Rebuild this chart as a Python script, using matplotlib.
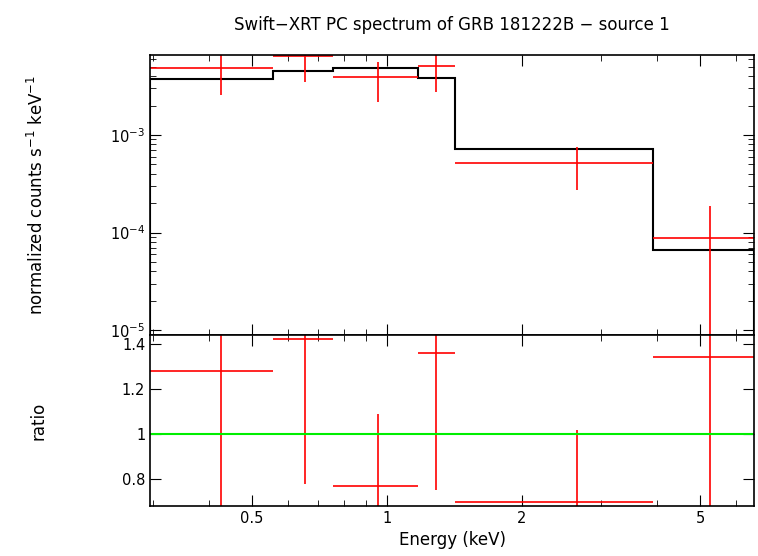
import matplotlib
matplotlib.use("Agg")
import matplotlib.pyplot as plt
import numpy as np
from matplotlib.ticker import FixedLocator, NullFormatter

edges = [0.296, 0.557, 0.758, 1.173, 1.418, 3.92, 6.6]
centers = [0.426, 0.656, 0.955, 1.286, 2.65, 5.26]
rate = [4.83e-3, 6.4e-3, 3.9e-3, 5.06e-3, 5.18e-4, 8.7e-5]
rate_lo = [2.56e-3, 3.47e-3, 2.17e-3, 2.75e-3, 2.75e-4, 1e-6]
rate_hi = [8.0e-3, 9.0e-3, 5.56e-3, 8.0e-3, 7.55e-4, 1.89e-4]
model = [3.73e-3, 4.5e-3, 4.83e-3, 3.82e-3, 7.2e-4, 6.55e-5]
ratio = [1.28, 1.42, 0.77, 1.36, 0.70, 1.34]
ratio_lo = [0.5, 0.78, 0.5, 0.75, 0.5, 0.5]
ratio_hi = [1.8, 1.9, 1.09, 1.9, 1.02, 2.0]

fig = plt.figure(figsize=(7.58, 5.56), dpi=100)
ax1 = fig.add_axes([0.198, 0.3975, 0.797, 0.5035])
ax2 = fig.add_axes([0.198, 0.0899, 0.797, 0.3076], sharex=ax1)

xlo = np.array(edges[:-1]); xhi = np.array(edges[1:])
c = np.array(centers)
xerr = [c - xlo, xhi - c]

r = np.array(rate)
ax1.errorbar(c, r, xerr=xerr, yerr=[r - np.array(rate_lo), np.array(rate_hi) - r],
             fmt='none', ecolor='red', elinewidth=1.2)
ax1.stairs(model, edges, color='black', linewidth=1.5)
ax1.set_xscale('log'); ax1.set_yscale('log')
ax1.set_xlim(0.296, 6.6); ax1.set_ylim(8.9e-6, 6.6e-3)
ax1.set_ylabel('normalized counts s$^{-1}$ keV$^{-1}$', fontsize=12)
ax1.set_title('Swift\u2212XRT PC spectrum of GRB 181222B \u2212 source 1', fontsize=12, pad=18)

q = np.array(ratio)
ax2.errorbar(c, q, xerr=xerr, yerr=[q - np.array(ratio_lo), np.array(ratio_hi) - q],
             fmt='none', ecolor='red', elinewidth=1.2)
ax2.axhline(1, color='#00ee00', linewidth=1.5)
ax2.set_ylim(0.68, 1.44)
ax2.set_yticks([0.8, 1.0, 1.2, 1.4]); ax2.set_yticklabels(['0.8', '1', '1.2', '1.4'])
ax2.set_ylabel('ratio', fontsize=12)
ax2.set_xlabel('Energy (keV)', fontsize=12)
ax2.xaxis.set_major_locator(FixedLocator([0.5, 1, 2, 5]))
ax2.set_xticklabels(['0.5', '1', '2', '5'])
ax2.xaxis.set_minor_locator(FixedLocator([0.3,0.4,0.6,0.7,0.8,0.9,3,4,6]))
ax2.xaxis.set_minor_formatter(NullFormatter())
plt.setp(ax1.get_xticklabels(), visible=False)

for a in (ax1, ax2):
    a.tick_params(which='both', direction='in', top=True, right=True, labelsize=10.5)
    a.tick_params(which='major', length=8)
    a.tick_params(which='minor', length=4)
    for s in a.spines.values():
        s.set_linewidth(1.2)
    a.yaxis.set_label_coords(-0.17, 0.5)

fig.savefig('out.png', dpi=100)
